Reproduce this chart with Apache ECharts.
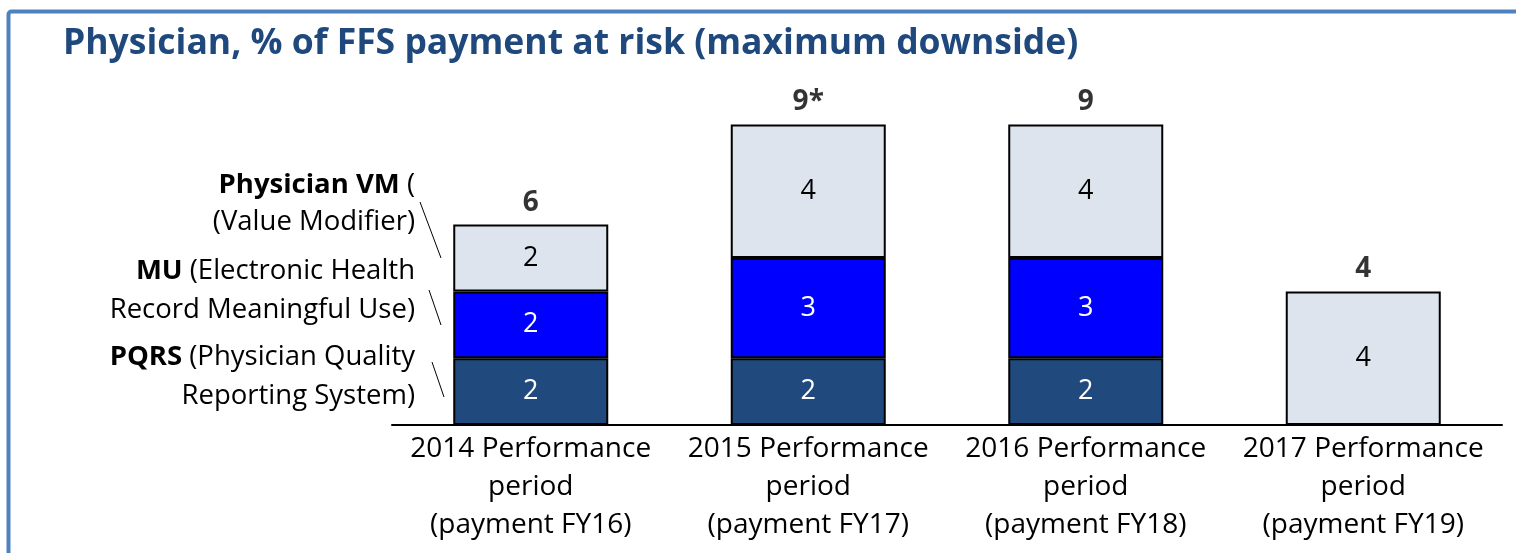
<!DOCTYPE html>
<html>
<head>
<meta charset="utf-8">
<script src="https://cdn.jsdelivr.net/npm/echarts@6/dist/echarts.min.js"></script>
<style>
  html, body { margin: 0; padding: 0; background: #fff; }
  #chart { width: 1516px; height: 553px; }
</style>
</head>
<body>
<div id="chart"></div>
<script>
// data
const periods = [
  "2014 Performance\nperiod\n(payment FY16)",
  "2015 Performance\nperiod\n(payment FY17)",
  "2016 Performance\nperiod\n(payment FY18)",
  "2017 Performance\nperiod\n(payment FY19)"
];
const pqrs = [2, 2, 2, null];
const mu = [2, 3, 3, null];
const vm = [2, 4, 4, 4];
const totals = [6, 9, 9, 4];
const totalLabels = ["6", "9*", "9", "4"];

const FONT = "Open Sans";
const chart = echarts.init(document.getElementById("chart"));

const segLabel = (color) => ({
  show: true,
  position: "inside",
  color: color,
  fontFamily: FONT,
  fontSize: 27
});

const legendText = (y, bold, rest) => ({
  type: "text",
  style: {
    x: 415,
    y: y,
    text: (bold ? "{b|" + bold + "}" : "") + rest,
    align: "right",
    verticalAlign: "middle",
    fontFamily: FONT,
    fontSize: 27.5,
    fill: "#000",
    rich: { b: { fontFamily: FONT, fontSize: 27.5, fontWeight: "bold", fill: "#000" } }
  }
});

const slash = (x1, y1, x2, y2) => ({
  type: "line",
  shape: { x1, y1, x2, y2 },
  style: { stroke: "#000", lineWidth: 1 }
});

chart.setOption({
  animation: false,
  title: {
    text: "Physician, % of FFS payment at risk (maximum downside)",
    left: 58,
    top: 21,
    textStyle: { color: "#1F497D", fontFamily: FONT, fontWeight: "bold", fontSize: 35.5 }
  },
  grid: { left: 392, right: 14, top: 91, bottom: 128 },
  xAxis: {
    type: "category",
    data: periods,
    axisLine: { lineStyle: { color: "#000", width: 2 } },
    axisTick: { show: false },
    axisLabel: {
      color: "#000",
      fontFamily: FONT,
      fontSize: 28,
      lineHeight: 38,
      margin: 5,
      interval: 0
    }
  },
  yAxis: { type: "value", min: 0, max: 10, show: false, splitLine: { show: false } },
  series: [
    {
      name: "PQRS", type: "bar", stack: "t", data: pqrs, barWidth: 155,
      itemStyle: { color: "#204A7D", borderColor: "#000", borderWidth: 2 },
      label: segLabel("#fff")
    },
    {
      name: "MU", type: "bar", stack: "t", data: mu, barWidth: 155,
      itemStyle: { color: "#0000FF", borderColor: "#000", borderWidth: 2 },
      label: segLabel("#fff")
    },
    {
      name: "Physician VM", type: "bar", stack: "t", data: vm, barWidth: 155,
      itemStyle: { color: "#DDE4EE", borderColor: "#000", borderWidth: 2 },
      label: segLabel("#000")
    },
    {
      name: "Total", type: "scatter", data: totals, symbolSize: 0,
      label: {
        show: true, position: "top", distance: 8,
        formatter: (p) => totalLabels[p.dataIndex],
        color: "#000", fontFamily: FONT, fontWeight: "bold", fontSize: 28
      }
    }
  ],
  graphic: [
    {
      type: "rect", left: 6, top: 9,
      shape: { width: 1600, height: 700, r: 3 },
      style: { fill: "none", stroke: "#4F81BD", lineWidth: 4 }
    },
    legendText(185, "Physician VM", " ("),
    legendText(222, "", "(Value Modifier)"),
    legendText(271, "MU", " (Electronic Health"),
    legendText(310, "", "Record Meaningful Use)"),
    legendText(357, "PQRS", " (Physician Quality"),
    legendText(396, "", "Reporting System)"),
    slash(420, 202, 441, 258),
    slash(429, 290, 441, 325),
    slash(432, 362, 444, 397)
  ]
});
</script>
</body>
</html>
